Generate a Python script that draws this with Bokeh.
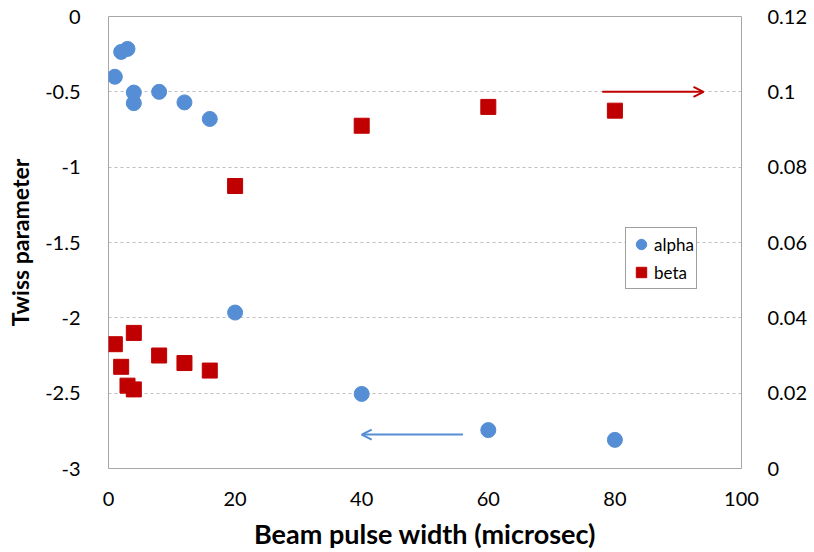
from bokeh.plotting import figure
from bokeh.models import (Range1d, LinearAxis, FixedTicker, Legend, LegendItem,
                          Arrow, OpenHead)
from bokeh.embed import file_html
from bokeh.resources import INLINE

# Beam pulse widths (microsec) and fitted Twiss parameters
pulse_alpha = [1, 2, 3, 4, 4, 8, 12, 16, 20, 40, 60, 80]
alpha = [-0.40, -0.235, -0.215, -0.505, -0.575, -0.50, -0.57, -0.68,
         -1.965, -2.505, -2.745, -2.81]

pulse_beta = [1, 2, 3, 4, 4, 8, 12, 16, 20, 40, 60, 80]
beta = [0.033, 0.027, 0.022, 0.036, 0.021, 0.030, 0.028, 0.026,
        0.075, 0.091, 0.096, 0.095]

left_ticks = [-3, -2.5, -2, -1.5, -1, -0.5, 0]
left_labels = ["-3", "-2.5", "-2", "-1.5", "-1", "-0.5", "0"]
right_ticks = [0, 0.02, 0.04, 0.06, 0.08, 0.1, 0.12]
right_labels = ["0", "0.02", "0.04", "0.06", "0.08", "0.1", "0.12"]
x_ticks = [0, 20, 40, 60, 80, 100]

# Arrows pointing each series to its axis
beta_arrow_x = [78, 94]
beta_arrow_y = [0.1, 0.1]
alpha_arrow_x = [56, 40]
alpha_arrow_y = [-2.775, -2.775]

BLUE = "#558ED5"
RED = "#C00000"
FONT = "Lato"

p = figure(width=814, height=552, output_backend="svg", toolbar_location=None,
           x_range=Range1d(0, 100), y_range=Range1d(-3, 0),
           min_border_left=108, min_border_right=73,
           min_border_top=16, min_border_bottom=82)
p.background_fill_color = "white"
p.border_fill_color = "white"
p.outline_line_color = "#A6A6A6"
p.outline_line_width = 1

p.extra_y_ranges = {"beta": Range1d(0, 0.12)}

# Left axis
ya = p.yaxis[0]
ya.ticker = FixedTicker(ticks=left_ticks)
ya.major_label_overrides = {t: s for t, s in zip(left_ticks, left_labels)}
ya.axis_label = "Twiss parameter"

# Bottom axis
xa = p.xaxis[0]
xa.ticker = FixedTicker(ticks=x_ticks)
xa.axis_label = "Beam pulse width (microsec)"

# Right axis for beta
ra = LinearAxis(y_range_name="beta")
ra.ticker = FixedTicker(ticks=right_ticks)
ra.major_label_overrides = {t: s for t, s in zip(right_ticks, right_labels)}
p.add_layout(ra, "right")

for ax in (ya, xa, ra):
    ax.axis_line_color = None
    ax.major_tick_line_color = None
    ax.minor_tick_line_color = None
    ax.major_label_text_font = FONT
    ax.major_label_text_font_size = "20px"
    ax.major_label_text_color = "#000000"
    ax.axis_label_text_font = FONT
    ax.axis_label_text_font_size = "23px"
    ax.axis_label_text_font_style = "bold"
    ax.axis_label_text_color = "#000000"

xa.axis_label_text_font_size = "27px"
ya.major_label_standoff = 22
ya.axis_label_standoff = 8
ra.major_label_standoff = 20
xa.major_label_standoff = 17
xa.axis_label_standoff = 8

p.xgrid.visible = False
p.ygrid.ticker = FixedTicker(ticks=[-2.5, -2, -1.5, -1, -0.5])
p.ygrid.grid_line_color = "#BFBFBF"
p.ygrid.grid_line_dash = "3 3"
p.ygrid.grid_line_width = 1

r_alpha = p.scatter(pulse_alpha, alpha, marker="circle", size=15,
                    fill_color=BLUE, line_color=BLUE)
r_beta = p.scatter(pulse_beta, beta, marker="square", size=15,
                   fill_color=RED, line_color=RED, y_range_name="beta")

p.add_layout(Arrow(end=OpenHead(line_color=RED, line_width=2, size=10),
                   x_start=beta_arrow_x[0], y_start=beta_arrow_y[0],
                   x_end=beta_arrow_x[1], y_end=beta_arrow_y[1],
                   line_color=RED, line_width=2, y_range_name="beta"))
p.add_layout(Arrow(end=OpenHead(line_color=BLUE, line_width=2, size=10),
                   x_start=alpha_arrow_x[0], y_start=alpha_arrow_y[0],
                   x_end=alpha_arrow_x[1], y_end=alpha_arrow_y[1],
                   line_color=BLUE, line_width=2))

legend = Legend(items=[LegendItem(label="alpha", renderers=[r_alpha]),
                       LegendItem(label="beta", renderers=[r_beta])],
                location=(517, 179))
legend.border_line_color = "#404040"
legend.border_line_width = 1
legend.background_fill_color = "white"
legend.background_fill_alpha = 1
legend.label_text_font = FONT
legend.label_text_font_size = "17px"
legend.label_text_color = "#000000"
legend.glyph_width = 26
legend.glyph_height = 28
legend.label_height = 28
legend.label_standoff = 0
legend.spacing = 0
legend.padding = 2
legend.margin = 0
p.add_layout(legend, "center")

open("out.html", "w").write(file_html(p, INLINE))
